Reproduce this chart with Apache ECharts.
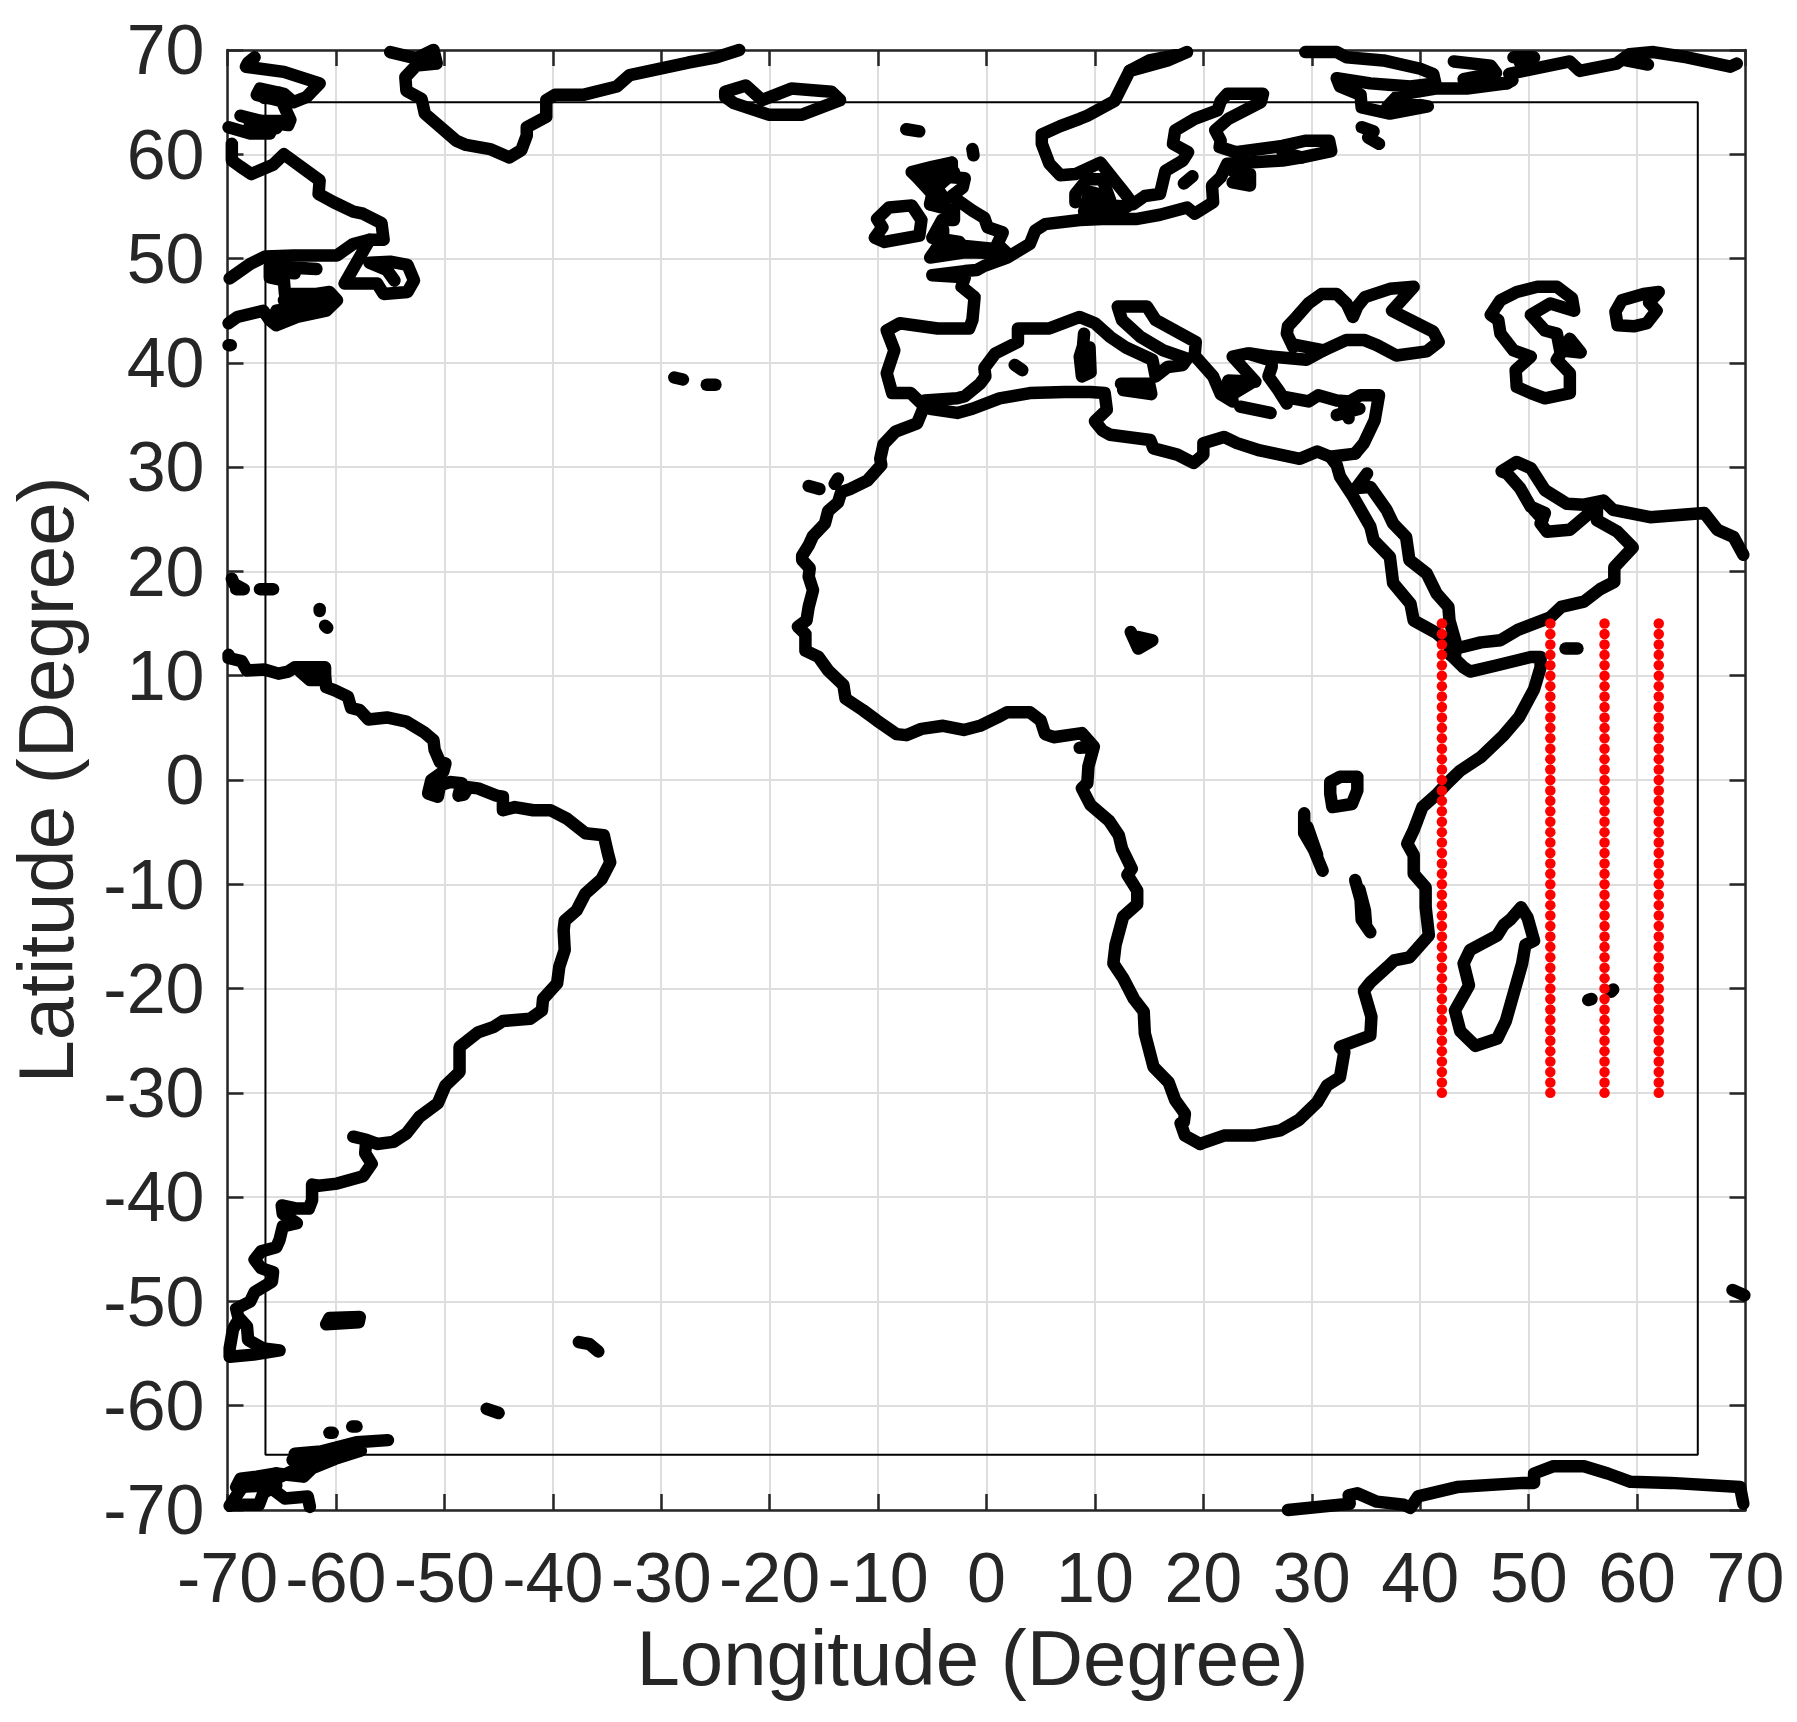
<!DOCTYPE html>
<html><head><meta charset="utf-8">
<style>html,body{margin:0;padding:0;background:#fff}#c{width:1797px;height:1722px}</style>
<script src="https://cdn.jsdelivr.net/npm/echarts@6/dist/echarts.min.js"></script>
</head><body><div id="c"></div>
<script>
const tickValues=[-70,-60,-50,-40,-30,-20,-10,0,10,20,30,40,50,60,70];
const transectLons=[42,52,57,62];
const transectLats=[15,14,13,12,11,10,9,8,7,6,5,4,3,2,1,0,-1,-2,-3,-4,-5,-6,-7,-8,-9,-10,-11,-12,-13,-14,-15,-16,-17,-18,-19,-20,-21,-22,-23,-24,-25,-26,-27,-28,-29,-30];
const studyBox=[[-66.5,65],[65.6,65],[65.6,-64.7],[-66.5,-64.7],[-66.5,65]];

const southAmerica=[[-69.9,12],[-69.9,11.7],[-68.7,11.4],[-68.2,10.5],[-66.6,10.6],[-65.3,10.2],[-64.4,10.4],[-63.8,10.8],[-61,10.8],[-61,9.6],[-62.4,9.6],[-63.3,10.4],[-61,10.1],[-60.9,8.9],[-60.1,8.6],[-58.9,8],[-58.6,6.9],[-57.8,6.7],[-57,5.8],[-55.3,6],[-53.5,5.6],[-51.9,4.6],[-51,3.8],[-50.9,2.9],[-50.4,1.7],[-49.9,1.6],[-50.1,.8],[-51.2,0],[-51.5,-1.3],[-50.6,-1.6],[-50.4,-.5],[-49.5,-.2],[-48.4,-.3],[-48.7,-1.5],[-48.2,-1.4],[-47.8,-.7],[-46.9,-.8],[-45.2,-1.5],[-44.6,-1.6],[-44.6,-2.9],[-43.5,-2.6],[-41.8,-2.9],[-40.2,-2.9],[-38.7,-3.7],[-37,-5.1],[-35.3,-5.3],[-34.9,-7.1],[-34.7,-7.9],[-35.5,-9.5],[-37,-10.9],[-37.8,-12.5],[-38.9,-13.5],[-39,-14.4],[-38.9,-16.3],[-39.4,-17.9],[-39.6,-19.5],[-40.9,-21],[-41,-22.1],[-42.1,-22.9],[-44.6,-23.1],[-45.5,-23.7],[-46.9,-24.2],[-48.6,-25.6],[-48.6,-28],[-49.9,-29.3],[-50.6,-31],[-52.3,-32.3],[-53.5,-33.9],[-54.7,-34.7],[-56.2,-34.9],[-57.2,-34.5],[-58.4,-34.2],[-57.2,-34.5],[-57.3,-35.8],[-56.7,-36.8],[-57.5,-38],[-59.9,-38.7],[-61.6,-38.9],[-62.2,-38.8],[-62.2,-40.3],[-62.5,-41.1],[-63.6,-41.1],[-65,-40.8],[-64.9,-41.6],[-63.6,-42.5],[-64.9,-42.8],[-65.2,-44.1],[-65.5,-44.8],[-66.9,-45.2],[-67.5,-46],[-66.9,-46.8],[-65.8,-47.2],[-65.9,-48.1],[-67.5,-49.1],[-67.9,-50],[-69.2,-50.7],[-69,-51.5],[-68.2,-52.4],[-68.1,-53.7],[-66.7,-54.5],[-65.2,-54.7],[-67.6,-55.1],[-69.8,-55.3],[-69.8,-54.5],[-69.5,-52.7],[-69.2,-52.1]];
const falklands=[[-60.6,-51.6],[-57.8,-51.5],[-57.9,-52],[-60.9,-52.2],[-60.6,-51.6]];
const southGeorgia=[[-37.6,-53.9],[-36.6,-54.1],[-35.8,-54.8]];
const sandwich=[[-46.1,-60.3],[-45,-60.7]];
const peninsula=[[-55.2,-63.3],[-58.1,-63.5],[-61.4,-64.4],[-63.8,-64.6],[-57.7,-64.3],[-60.1,-65.1],[-62.2,-66],[-63,-66.8],[-65.5,-66.5],[-67.3,-66.8],[-68.8,-67],[-69.2,-67.8],[-65.5,-67.6],[-66.7,-68.4],[-67.1,-69.5],[-69.6,-69.5]];
const peninsulaFill=[[-64,-65.2],[-61,-65],[-63.5,-66],[-65.5,-67],[-68.5,-67.6],[-69.8,-69.6]];
const peninsulaTail=[[-65.5,-66.5],[-65.7,-68.1],[-64.7,-68.9],[-62.6,-68.7],[-62.4,-69.7]];
const antarcticDotA=[[-60.6,-62.6],[-60.3,-62.6]];
const antarcticDotB=[[-58.5,-62],[-58.1,-62]];

const canadaNorth=[[-67.5,69.3],[-68.1,68.8],[-68.3,68.4],[-64.8,67.9],[-61.5,66.8],[-62.7,65.5],[-63.9,65],[-64.8,65.8],[-67,66.3],[-67.3,65.7],[-65,65.1],[-64.2,63.3],[-64.4,62.8],[-66.5,63.1],[-68.8,63.7],[-65.8,62.8],[-66.1,62],[-67.9,62],[-69.9,62.6]];
const canadaFillA=[[-66.8,66],[-65.2,65.4],[-66.6,65.4],[-65.2,65.9]];
const canadaFillB=[[-68,63.2],[-65,63.2],[-68,62.6],[-65.5,62.5]];
const hudson=[[-69.6,61],[-69.6,59.4],[-68.8,58.8],[-67.8,58.1],[-65.8,59],[-64.8,60],[-61.5,57.5],[-61.6,56.2],[-60.2,55.4],[-58.4,54.5],[-57.5,54.3],[-55.8,53.4],[-55.6,51.8],[-56.9,51.8],[-58.4,51.4],[-59.9,50.3],[-63.9,50.3],[-66.5,50.2],[-67.9,49.5],[-69.8,48.1]];
const gulfLawrence=[[-65.3,49.2],[-61.8,49],[-66.1,49.3],[-66.1,48.2],[-64.8,47.9],[-64.7,46.6],[-61.8,46.6],[-60.6,46.8],[-59.9,46],[-60.9,45],[-63.6,44.4],[-65.5,43.6],[-66.1,44.1],[-66.7,45],[-69.1,44.4],[-69.9,43.8]];
const novaFill=[[-65.5,45],[-60.6,45.9],[-65,44.3]];
const novaFillB=[[-66,44.5],[-61.5,45.5],[-64,45.4],[-62,45.8],[-64.8,46]];
const quebecFill=[[-66,49.6],[-63.8,48.6],[-65.6,48.7]];
const newfoundland=[[-56.9,51.8],[-59.2,47.6],[-56.2,47.6],[-55.6,46.6],[-53.4,46.8],[-52.8,47.9],[-53.4,49.4],[-55,49.7],[-56.9,49.6],[-55.3,48.9],[-54.6,47.9]];
const capeCodDot=[[-69.9,41.7],[-69.7,41.7]];

const greenland=[[-55,69.8],[-52.6,69.2],[-51,70],[-50.7,68.7],[-52.6,68.5],[-53.6,67.4],[-53.5,66.1],[-52.1,65.3],[-51.8,63.9],[-48.9,61.3],[-48,60.9],[-45.8,60.5],[-44,59.7],[-42.9,60.4],[-42.4,61.8],[-42.4,62.6],[-40.6,63.6],[-40.6,65.2],[-39.8,65.7],[-37.2,65.7],[-34.1,66.5],[-32.9,67.6],[-30.2,68.2],[-27.5,68.8],[-24.9,69.3],[-22.8,70]];
const iceland=[[-24.1,66],[-22.2,66.6],[-20.7,65.2],[-18,66.3],[-14.3,66],[-13.5,65.2],[-17,63.8],[-20.1,63.8],[-23.3,64.9],[-24.1,65.5],[-24.1,66]];
const azoresA=[[-28.8,38.6],[-28,38.4]];
const azoresB=[[-25.8,37.9],[-25,37.9]];
const canaryA=[[-16.4,28.2],[-15.4,27.9]];
const canaryB=[[-13.7,28.9],[-14,28.4]];

const africaWest=[[-5.7,36],[-6,35.2],[-6.4,34.2],[-8.4,33.4],[-9.5,32.2],[-9.8,30.8],[-9.7,30.2],[-11,28.7],[-12.6,27.9],[-13.4,27.6],[-13.7,26.6],[-14.6,25.8],[-14.9,24.6],[-16,23.4],[-16.4,22.5],[-17,21.5],[-17,21.1],[-16.3,20.3],[-16.4,19.5],[-16,18.2],[-16.4,16.6],[-16.6,15.3],[-17.4,14.7],[-16.7,14],[-16.7,12.4],[-15.5,11.8],[-14.6,10.5],[-13.2,9.1],[-13,7.8],[-11.4,6.7],[-10.1,5.7],[-8.3,4.4],[-7.4,4.3],[-6,4.9],[-4,5.2],[-2.1,4.8],[-.6,5.2],[1,6],[1.9,6.5],[4,6.5],[5,5.7],[5.4,4.4],[6.2,4.1],[8.8,4.5],[9.9,3.2],[8.6,3.1],[9.9,3.2],[9.4,1.3],[9.3,-.3],[8.8,-.8],[9.6,-2.4],[11.3,-3.9],[12.2,-5.3],[12.5,-6.6],[13.4,-8.5],[13,-9.1],[13.9,-10.6],[13.9,-11.9],[12.6,-13.1],[11.9,-15.8],[11.7,-17.6],[12.6,-19],[13.6,-21],[14.5,-22.2],[14.6,-24.3],[15.4,-27.5],[16.8,-29],[17.4,-30.7],[18.3,-32],[18.2,-32.8],[17.9,-32.9],[18.3,-34.1],[19.7,-34.9]];
const africaEast=[[19.7,-34.9],[21.9,-34.1],[24.6,-34.1],[27.1,-33.6],[28.8,-32.6],[30.5,-30.9],[31.4,-29.3],[32.6,-28.5],[33,-26.1],[32.6,-25.6],[35.4,-24.5],[35.5,-22.7],[34.8,-20.2],[35.4,-19.4],[37,-17.9],[37.6,-17.3],[39,-17],[40.8,-14.9],[40.5,-12.2],[40.5,-10.3],[39.4,-9],[39.4,-7.2],[38.8,-6.1],[39.4,-4.8],[40.2,-2.6],[41.6,-1.3],[42.5,-.3],[43.7,.9],[45.6,2.2],[47.7,4.3],[49.1,6],[50.5,8.7],[51.1,10.8],[51.1,11.8],[50.2,11.8],[47.1,11],[44.6,10.4],[44,10.8],[42.8,12]];
const redSeaWest=[[42.8,12],[42.7,13],[41.5,14.1],[39.4,15.3],[39.1,16.9],[37.5,18.9],[37.2,21.4],[35.7,23],[35.4,24.3],[33.8,27.2],[32.6,29.1],[32.3,30.2],[31.7,31]];
const africaNorth=[[34,31.3],[31.7,31],[30.5,31.5],[28.9,30.8],[25.2,31.6],[23.1,32.3],[21.9,32.9],[20,32.3],[20,31.2],[19.1,30.4],[17.6,31.2],[15.4,31.8],[15.1,32.6],[11.4,33.1],[10.7,33.5],[10,34.4],[11.1,35.5],[10.9,37.1],[9.6,37.2],[7.2,37.2],[4,37.1],[1.2,36.6],[-1.3,35.6],[-2.7,35.2],[-5.2,35.6],[-5.7,36]];

const iberiaFrance=[[-6,36.1],[-7,37.1],[-8.7,37.1],[-9.2,39],[-8.5,41.2],[-9.2,43.1],[-8,43.8],[-4.5,43.3],[-1.6,43.3],[-1.3,44.1],[-1.1,46.3],[-2.3,47.3],[-2,48.2],[-5,48.4],[-2,48.8],[-.9,48.9],[-.2,49.3],[1.9,50.1],[4,51.4],[4.5,52.7],[5.4,53.3],[8.6,53.7],[10.7,53.8],[13.9,53.8],[16,54.2],[18.5,54.9],[19.2,54.3],[20.9,55.4],[20.8,57],[21.6,57.8],[22.2,59.1],[27.3,59.4],[29.1,59.7]];
const medNorth=[[-5.7,36.4],[-2.7,36.6],[-2,36.8],[-.6,38],[-.1,38.7],[-.2,39.5],[.8,40.9],[2.9,42],[2.9,43.3],[5.8,43.3],[8.6,44.4],[10,43.8],[11.4,42.5],[12.8,41.5],[15.3,40.3],[15.6,38.7],[16.7,39.6],[18.1,39.8],[18.5,40.4],[16.3,41.2],[14.2,42.5],[12.5,44.1],[12.1,45.4],[14.8,45.4],[15.6,44.1],[19.3,42],[19.2,40.7],[20.9,38.7],[21.6,37],[22.7,36.3],[22.3,38.3],[24.8,38.2],[22.7,40.6],[24.1,40.9],[25.7,40.4]];
const greeceFill=[[21.5,37.5],[24.3,38],[23,37.2]];
const sicily=[[12.4,38],[15,38],[15.2,37],[12.6,37.4]];
const crete=[[23.4,35.8],[26.2,35.2]];
const cyprus=[[32.3,35],[34.4,35.6],[33,35.7],[33.4,34.7]];
const sardinia=[[9,42.8],[8.9,41.6],[8.6,40.6],[8.8,38.7],[9.6,39.1],[9.5,41.5]];
const balearic=[[2.6,39.8],[3.3,39.3]];
const blackSea=[[28.3,41.5],[27.7,42.8],[27.8,43.5],[28.6,44.4],[29.7,45.7],[30.9,46.6],[32.3,46.6],[33.2,45.7],[33.8,44.4],[34.2,45.4],[34.9,46.3],[37.2,47.1],[39.4,47.3],[37.4,45],[39.1,44.1],[41.2,43],[41.7,42],[40.6,41.1],[37.8,40.7],[36,41.7],[34.8,42.2],[33.2,42.2],[31.1,41.2],[28.6,41.7]];
const turkey=[[24.3,40.9],[26.2,40.6],[29.5,40.3],[31.1,41.2],[29.5,40.3],[26.3,40.6],[26.3,39.6],[26,38.7],[26.9,37.4],[27.7,36.1],[27.7,36.7],[29.7,36.3],[30.6,36.9],[32.3,36.4],[33.5,36.3],[34.5,36.9],[36.2,36.9],[35.8,34.5],[34.8,32.3],[34,31.3]];
const arabiaWest=[[35.1,29.4],[34.1,28],[35.4,28.1],[36.9,25.9],[37.5,24.6],[38.7,23.3],[39,21.1],[40.6,19.8],[41.5,17.9],[42.6,16.6],[42.7,15.3],[43.3,13.1],[43.2,11.8]];
const arabiaSouth=[[43.7,12.7],[45.6,13.2],[47.4,13.4],[49,14.4],[52,15.6],[53,16.6],[55.1,17.1],[56.6,18.3],[57.9,19],[57.9,20.4],[59.6,22.3],[58.2,23.8],[56.3,24.9],[56.3,26.2],[53.8,24],[51.7,23.8],[51.1,24.6],[51.5,25.6],[50.2,26.2],[49.2,28],[48,29.4],[47.5,29.6],[48.9,30.5],[50.2,29.9],[51.5,27.8],[53.5,26.5],[55.1,26.4],[56.9,26.8],[57.8,25.9],[61.2,25.2],[66.2,25.6],[67.4,24],[68.9,23.3],[69.8,21.6]];
const qatarFill=[[50.5,25.9],[51.3,25]];
const caspian=[[46.5,44.6],[47.4,46],[48.9,46.8],[50.8,47.3],[52.6,47.3],[54,46.2],[54.2,45],[52,45.7],[50.2,44.6],[51.5,43.1],[52.6,42.8],[52.9,41.2],[54.8,41],[53.8,42.3],[52.6,40.3],[53.8,39],[53.8,37.1],[51.5,36.6],[50.2,37.1],[48.9,37.7],[48.8,39.3],[50.2,40.6],[48.6,41.2],[47.4,42.8],[47.2,44.1],[46.5,44.6]];
const aral=[[58,44.9],[58.6,46],[60.6,46.6],[62,46.8],[61.1,45.8],[61.8,45],[60.9,43.8],[59.7,43.5],[58.2,43.6],[58,44.9]];

const scandinavia=[[18.5,69.8],[16.7,69],[13.2,68],[11.8,65.1],[9.3,63.7],[8.6,63.4],[6.8,62.7],[5.1,61.9],[5.1,61],[5.8,59.1],[6.8,58],[8.2,58.1],[10.5,59.2],[11.8,57.5],[12.8,56.2],[13.5,55.2],[14.6,56],[16,56.2],[16.5,58.4],[18.1,59.4],[18.6,60.2],[17.2,61],[17.4,62.3],[19.2,63.4],[21.3,64.2],[21.6,65.1],[22.2,65.8],[25.5,65.8],[25.3,65],[22.3,63.4],[21.1,62.3],[21.6,61.3],[21.5,60.7],[23,60.2],[27.3,60.8],[29.4,61.3],[31.6,61.3],[31.8,60.3],[29.1,59.7],[27.3,60.2]];
const norwayFill=[[13.2,68],[15,69],[17.5,69.5]];
const jutland=[[8.2,55.4],[8.2,56.2],[9.3,57.6],[10.7,57.6],[11.4,55.6],[10,55],[9.6,53.9],[11.5,54.4],[10.5,56]];
const balticFill=[[9,55.2],[13,55],[12,54.4],[9,54.5],[9.5,56.4],[11,56],[10,54.8]];
const rigaRing=[[22.7,58.4],[24.3,58.1],[24.3,57],[22.7,57.3]];
const gotland=[[18.2,57.2],[19,57.9]];
const ireland=[[-10.1,53.8],[-9,54.9],[-6.9,55.1],[-6,53.7],[-6.2,52.2],[-9.4,51.6],[-10.3,52],[-9.6,53],[-10.1,53.8]];
const britain=[[-6.9,58.3],[-5,58.8],[-3.2,59.2],[-3.2,57.8],[-2,57.7],[-2.2,56.8],[-3.2,56],[-1.3,54.6],[-.2,53.9],[.1,53],[1.5,52.5],[1,51.4],[1.9,50.5],[-2,50.6],[-5.2,50.1],[-4.1,51.7],[-2.5,51.6],[-5,52],[-4.1,53.7],[-3,53.7],[-3,54.6],[-5.2,55.2],[-5,56.2],[-6.4,57.8],[-6.9,58.3]];
const britainEast=[[-3.2,59.2],[-5,57.4],[-3.8,55.6],[-5.2,55.2]];
const scotlandFill=[[-6,58],[-4,58.5],[-5.3,57.8],[-3,58.3],[-4.6,56.8]];
const englandFill=[[-4.6,51],[-1.5,51],[1,50.9],[-2,51.2],[-4.5,52],[-4,50.6],[-4,52.8]];
const faroes=[[-7.4,62.4],[-6.2,62.2]];
const shetland=[[-1.3,60.5],[-1.2,59.9]];

const russiaArctic=[[29.4,69.8],[32.3,69.8],[33.2,69.3],[36.6,69],[40,68.2],[41.2,67.7],[41.4,66.8],[39.1,66.5],[35.4,66.8],[32.3,67.3],[32.6,66.5],[34.5,65.7],[34.6,64.5],[37.2,63.9],[40.7,64.6],[38,65.1],[37,64.6],[38,65.7],[41.4,66.3],[44.3,66.3],[48,66.8],[48.5,67.1],[48.2,67.7],[53.8,68.9],[54.7,68],[58.1,68.7],[59.3,69.6],[61.5,69.8],[64.6,69.3],[68.6,68.4],[69.2,68.7]];
const kanin=[[43.1,68.9],[46.5,68.5],[47,67.8],[44,67.2],[45.8,66.9],[48,66.8]];
const kolguev=[[48.6,69.3],[50.5,69.3],[49.2,68.8]];
const yamalBlob=[[59,69],[61,68.6],[60,69.4]];
const ladoga=[[34.6,62.6],[35.7,62.2],[35.2,61.6],[36.2,61]];

const madagascar=[[49.3,-12.2],[48.3,-13.4],[47.7,-13.9],[47.1,-14.9],[44.6,-16.3],[44,-17.6],[44.5,-19.7],[43.2,-22.1],[43.7,-24.1],[45.1,-25.5],[47.1,-24.8],[47.9,-23.1],[49.4,-17.6],[49.7,-15.8],[50.5,-15.4],[49.9,-13.2],[49.3,-12.2]];
const reunion=[[55.5,-21.1],[55.8,-21]];
const mauritius=[[57.6,-20.3],[57.8,-20.1]];
const socotra=[[53.4,12.6],[54.5,12.6]];
const lakeVictoria=[[31.7,-.2],[32.6,.3],[34.2,.3],[34.2,-1],[33.7,-2.3],[31.9,-2.6],[31.7,-1.3],[31.7,-.2]];
const lakeTanganyika=[[29.3,-3.2],[29.3,-5.1],[30.2,-6.7],[31,-8.7]];
const tanganyikaFill=[[29.6,-4.5],[30.5,-7.2]];
const lakeMalawi=[[34,-9.6],[34.5,-11.5],[34.6,-13.4],[35.4,-14.6]];
const malawiFill=[[34.4,-10.5],[34.9,-12.5],[35,-13.8]];
const lakeChad=[[13.3,14.2],[14,12.6],[15.3,13.4],[14,13.7]];
const antilles1=[[-69.6,19.3],[-69.4,18.8],[-68.5,18.3],[-69.2,18.3]];
const antilles2=[[-67,18.3],[-65.8,18.3]];
const antilles3=[[-61.5,16.4],[-61.5,16.2]];
const antilles4=[[-61,14.8],[-60.8,14.6]];
const antarctica=[[27.8,-70],[33.5,-69.4],[33.4,-68.6],[34.2,-68.4],[36,-69.2],[38.5,-69.5],[39.1,-69.8],[39.8,-68.7],[43.4,-67.8],[49.5,-67.4],[50.5,-67.4],[50.5,-66.5],[52.3,-65.8],[55.1,-65.8],[57.3,-66.5],[59.4,-67.3],[63.1,-67.4],[69.5,-67.8],[69.8,-69.4]];
const kerguelen=[[68.8,-48.9],[69.9,-49.4]];

const coastlines=[southAmerica,falklands,southGeorgia,sandwich,peninsula,peninsulaFill,peninsulaTail,antarcticDotA,antarcticDotB,canadaNorth,canadaFillA,canadaFillB,hudson,gulfLawrence,novaFill,novaFillB,quebecFill,newfoundland,capeCodDot,greenland,iceland,azoresA,azoresB,canaryA,canaryB,africaWest,africaEast,redSeaWest,africaNorth,iberiaFrance,medNorth,greeceFill,sicily,crete,cyprus,sardinia,balearic,blackSea,turkey,arabiaWest,arabiaSouth,qatarFill,caspian,aral,scandinavia,norwayFill,jutland,balticFill,rigaRing,gotland,ireland,britain,britainEast,scotlandFill,englandFill,faroes,shetland,russiaArctic,kanin,kolguev,yamalBlob,ladoga,madagascar,reunion,mauritius,socotra,lakeVictoria,lakeTanganyika,tanganyikaFill,lakeMalawi,malawiFill,lakeChad,antilles1,antilles2,antilles3,antilles4,antarctica,kerguelen];

const INK='#262626', FONT='"Liberation Sans", Arial, sans-serif';
const base={type:'value',min:tickValues[0],max:tickValues[tickValues.length-1],interval:10,
  axisLine:{show:true,onZero:false,lineStyle:{color:INK,width:2.5}},
  axisTick:{show:true,inside:true,length:16,lineStyle:{color:INK,width:2.5}}};
const labelStyle={color:INK,fontFamily:FONT,fontSize:70};
const nameStyle={color:INK,fontFamily:FONT,fontSize:78};
const grid={show:true,lineStyle:{color:'#dedede',width:2}};
const series=[];
series.push({type:'line',data:studyBox,showSymbol:false,clip:false,animation:false,silent:true,z:3,lineStyle:{color:'#000',width:2}});
coastlines.forEach(c=>series.push({type:'line',data:c,showSymbol:false,clip:false,animation:false,silent:true,z:4,
  lineStyle:{color:'#000',width:12.5,cap:'round',join:'round'}}));
transectLons.forEach(lon=>series.push({type:'scatter',data:transectLats.map(lat=>[lon,lat]),symbol:'circle',symbolSize:10.5,clip:false,animation:false,silent:true,z:6,itemStyle:{color:'#ff0000',opacity:1}}));

echarts.init(document.getElementById('c'),null,{renderer:'canvas'}).setOption({
  animation:false,backgroundColor:'#fff',
  grid:{left:227.5,top:50,width:1518,height:1460,containLabel:false,outerBoundsMode:'none'},
  xAxis:[
    {...base,position:'bottom',name:'Longitude (Degree)',nameLocation:'middle',nameGap:114,nameTextStyle:{...nameStyle,padding:[0,28,0,0]},
      axisLabel:{...labelStyle,margin:38},splitLine:grid},
    {...base,position:'top',axisLabel:{show:false},splitLine:{show:false}}
  ],
  yAxis:[
    {...base,position:'left',name:'Latitude (Degree)',nameLocation:'middle',nameGap:129,nameTextStyle:{...nameStyle,padding:[0,0,8,0]},
      axisLabel:{...labelStyle,margin:23,verticalAlign:'top',lineHeight:10},splitLine:grid},
    {...base,position:'right',axisLabel:{show:false},splitLine:{show:false}}
  ],
  series
});
</script></body></html>
